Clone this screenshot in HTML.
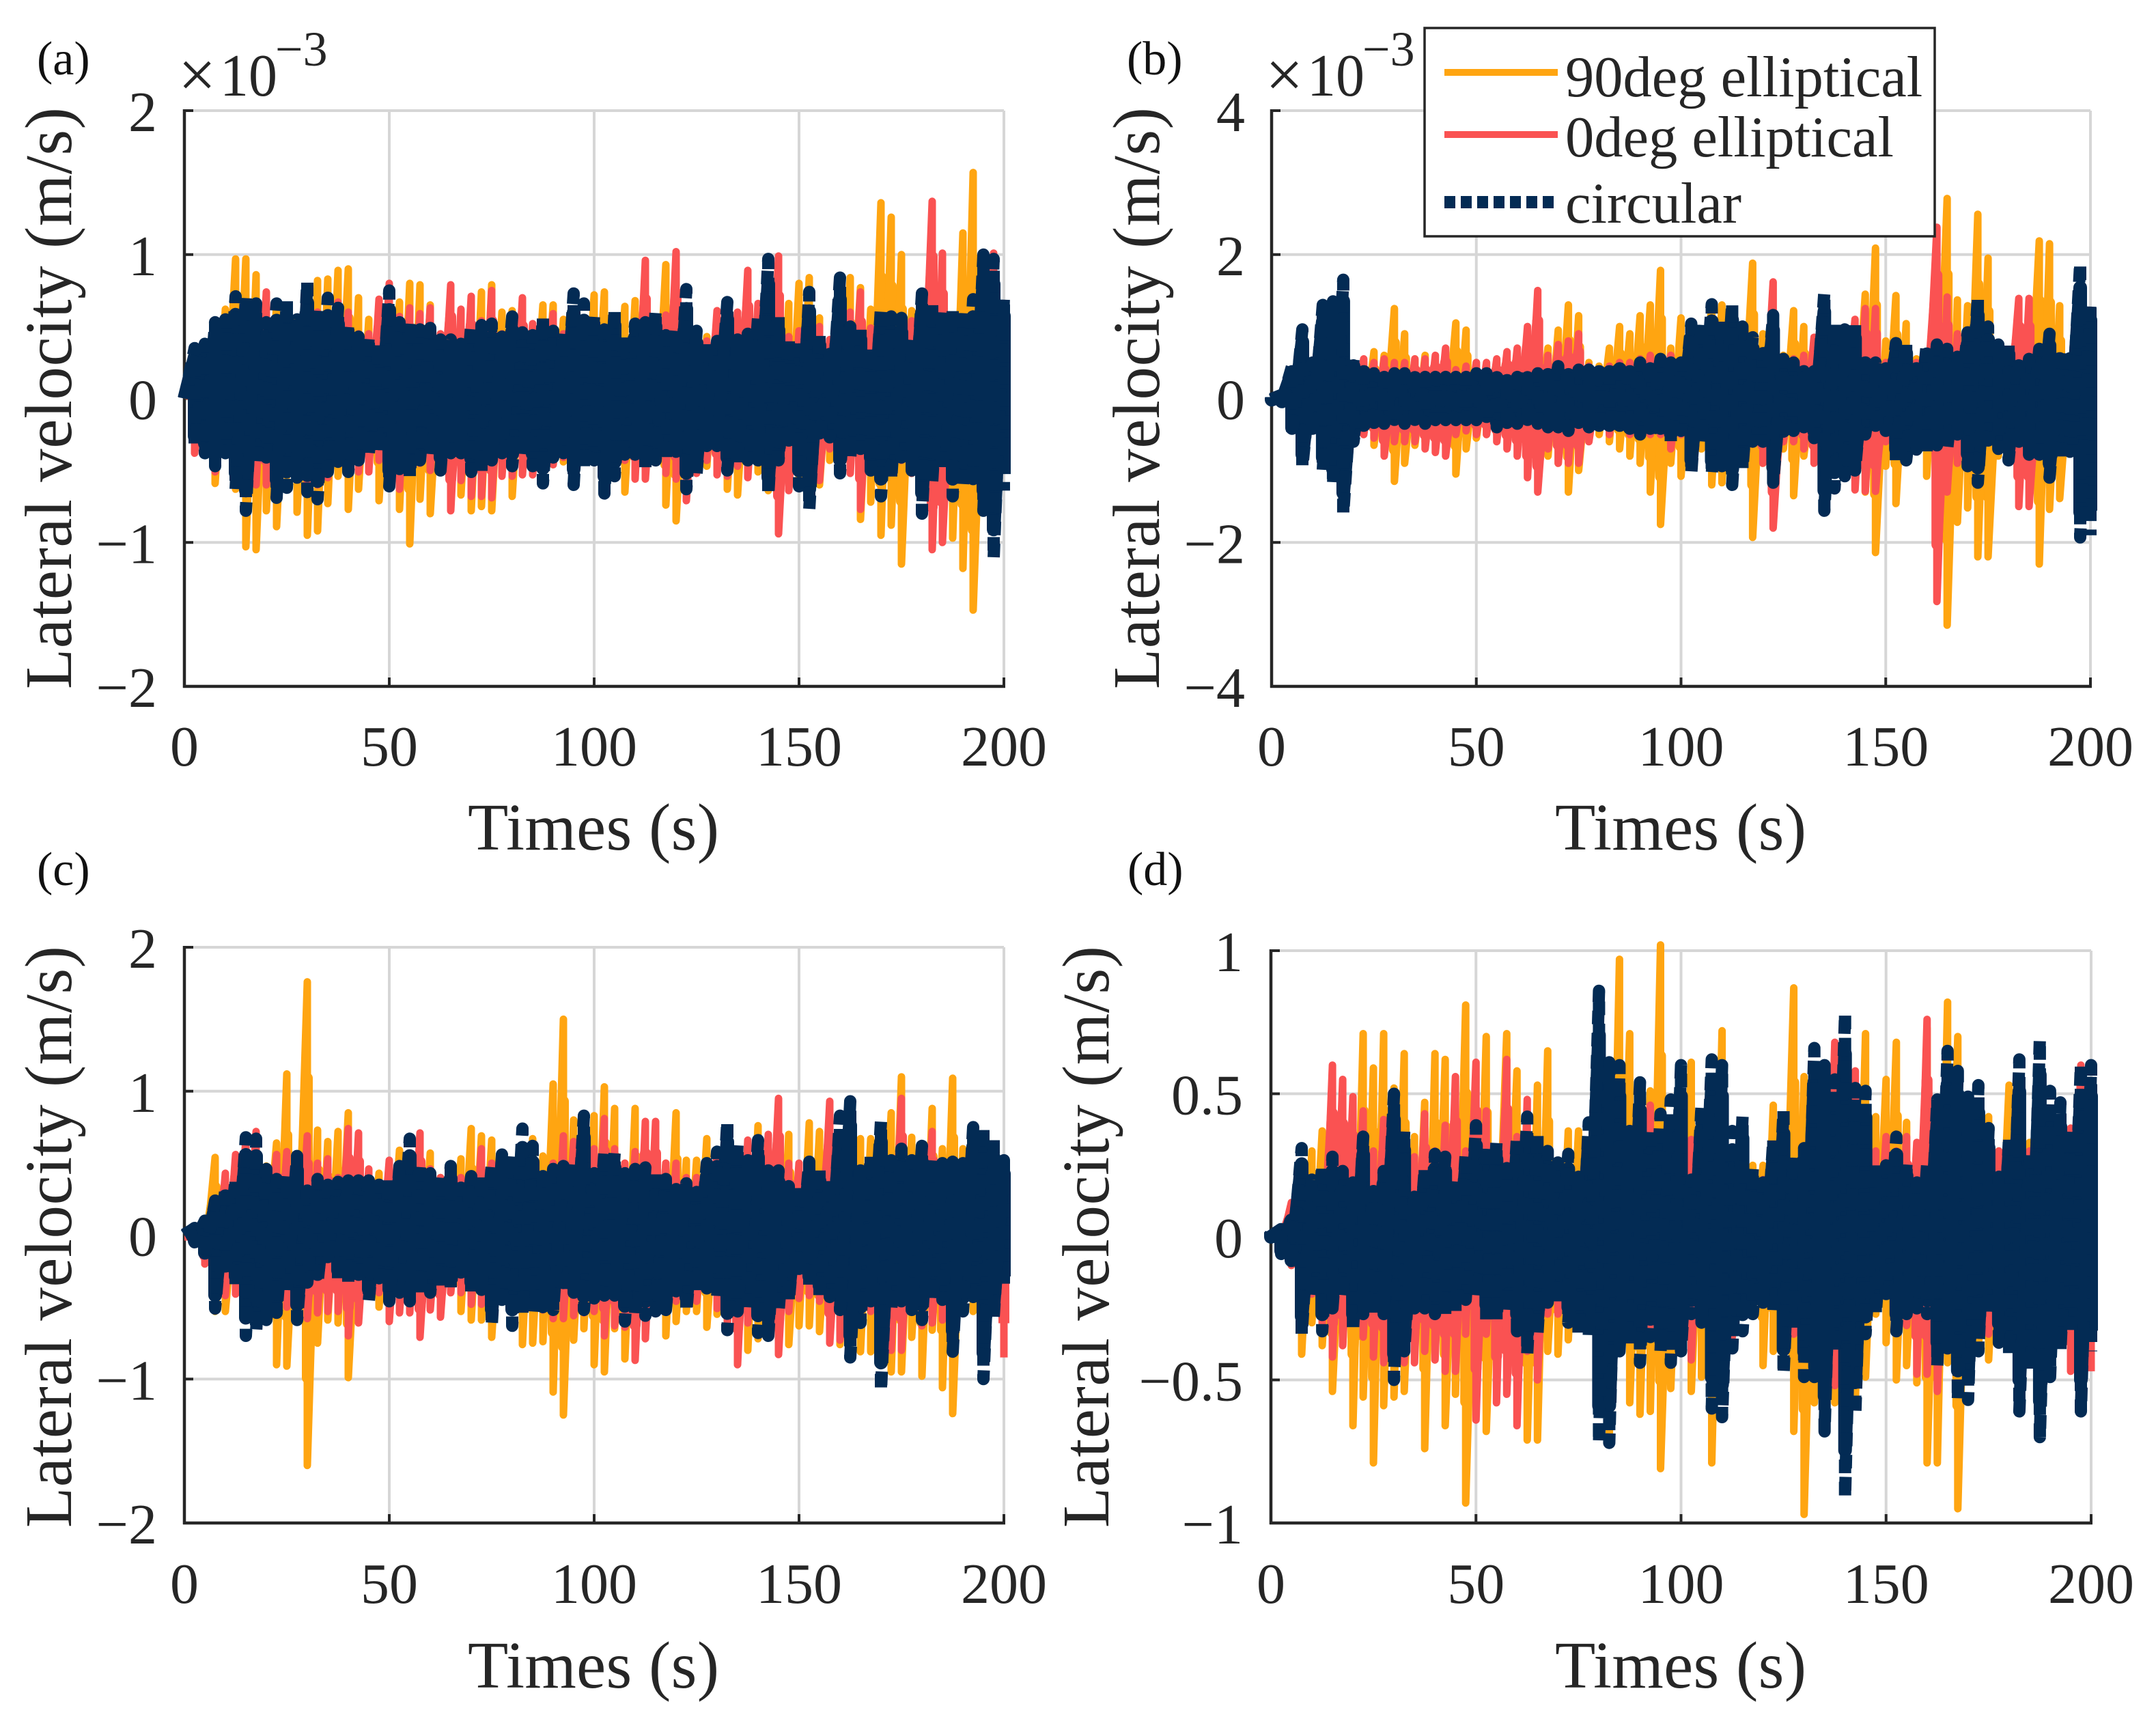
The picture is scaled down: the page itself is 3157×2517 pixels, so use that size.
<!DOCTYPE html>
<html lang="en">
<head>
<meta charset="utf-8">
<title>Lateral velocity comparison</title>
<style>
html,body{margin:0;padding:0;background:#fff;}
svg{display:block;}
text{font-family:"Liberation Serif",serif;fill:#262626;}
</style>
</head>
<body>
<svg id="figure" width="3157" height="2517" viewBox="0 0 3157 2517">
  <rect x="0" y="0" width="3157" height="2517" fill="#fff"/>
  <g id="plots"></g>

  <text x="54" y="109" font-size="70" style="fill:#111">(a)</text>
  <text x="1650" y="109" font-size="70" style="fill:#111">(b)</text>
  <text x="54" y="1296" font-size="70" style="fill:#111">(c)</text>
  <text x="1651" y="1296" font-size="70" style="fill:#111">(d)</text>

  <g>
    <text x="261" y="142" font-size="98">×</text>
    <text x="322" y="140" font-size="88" textLength="84" lengthAdjust="spacingAndGlyphs">10</text>
    <text x="403" y="96" font-size="72">−3</text>
  </g>
  <g>
    <text x="1853" y="142" font-size="98">×</text>
    <text x="1914" y="140" font-size="88" textLength="84" lengthAdjust="spacingAndGlyphs">10</text>
    <text x="1995" y="96" font-size="72">−3</text>
  </g>

  <text transform="translate(104,1009) rotate(-90)" font-size="97" textLength="852" lengthAdjust="spacing">Lateral velocity (m/s)</text>
  <text transform="translate(1697,1009) rotate(-90)" font-size="97" textLength="852" lengthAdjust="spacing">Lateral velocity (m/s)</text>
  <text transform="translate(104,2237) rotate(-90)" font-size="97" textLength="852" lengthAdjust="spacing">Lateral velocity (m/s)</text>
  <text transform="translate(1623,2237) rotate(-90)" font-size="97" textLength="852" lengthAdjust="spacing">Lateral velocity (m/s)</text>

  <text x="685" y="1244" font-size="97" textLength="368" lengthAdjust="spacing">Times (s)</text>
  <text x="2277" y="1244" font-size="97" textLength="368" lengthAdjust="spacing">Times (s)</text>
  <text x="685" y="2471" font-size="97" textLength="368" lengthAdjust="spacing">Times (s)</text>
  <text x="2277" y="2471" font-size="97" textLength="368" lengthAdjust="spacing">Times (s)</text>

  <g>
    <rect x="2086" y="41" width="747" height="305" fill="#fff" stroke="#262626" stroke-width="3.5"/>
    <line x1="2115" y1="106" x2="2281" y2="106" stroke="#FFA511" stroke-width="10"/>
    <text x="2292" y="141" font-size="84.5">90deg elliptical</text>
    <line x1="2115" y1="197" x2="2281" y2="197" stroke="#FA5252" stroke-width="10"/>
    <text x="2292" y="229" font-size="84.5">0deg elliptical</text>
    <line x1="2115" y1="296" x2="2281" y2="296" stroke="#032B54" stroke-width="18" stroke-dasharray="16 8"/>
    <text x="2292" y="326" font-size="84.5">circular</text>
  </g>
</svg>

<script>
/* Shared axis data */
const sampleStepSeconds = [2.5];
const valueUnit = [0.01];
const xTicks = [0, 50, 100, 150, 200];
const xTickLabels = ['0', '50', '100', '150', '200'];
const yTicksA = [-2, -1, 0, 1, 2];
const yTickLabelsA = ['−2', '−1', '0', '1', '2'];
const yTicksB = [-4, -2, 0, 2, 4];
const yTickLabelsB = ['−4', '−2', '0', '2', '4'];
const yTicksC = [-2, -1, 0, 1, 2];
const yTickLabelsC = ['−2', '−1', '0', '1', '2'];
const yTicksD = [-1, -0.5, 0, 0.5, 1];
const yTickLabelsD = ['−1', '−0.5', '0', '0.5', '1'];

/* Upper / lower peak values per 2.5 s sample, in hundredths of an axis unit */
const aOrangeHi = [0,25,30,49,62,97,97,86,68,67,57,55,70,82,83,89,90,70,55,46,50,67,80,79,65,40,40,50,64,74,79,60,61,50,45,65,65,55,50,50,
72,74,47,64,68,60,47,93,66,47,41,43,57,64,58,47,52,72,74,66,80,84,56,39,62,84,77,62,136,126,100,61,41,49,47,52,115,157,56,50,39];
const aOrangeLo = [0,-30,-35,-59,-38,-63,-103,-105,-78,-89,-54,-79,-95,-92,-73,-54,-77,-63,-40,-71,-50,-77,-101,-70,-80,-41,-68,-67,-78,-75,-78,-41,-68,-44,-43,-43,-46,-44,-51,-44,
-43,-43,-41,-65,-43,-43,-43,-74,-85,-56,-43,-47,-43,-63,-67,-43,-51,-64,-90,-62,-54,-56,-60,-43,-43,-43,-84,-72,-95,-88,-115,-52,-52,-52,-52,-97,-118,-147,-70,-64,-33];
const aRedHi = [0,25,30,45,50,60,60,60,74,55,55,50,55,60,55,67,60,45,45,69,80,57,63,59,63,45,79,62,71,54,75,45,45,70,52,50,59,45,45,45,
50,49,53,39,47,96,47,58,102,47,41,40,61,52,60,89,66,47,99,43,47,47,50,41,49,60,74,49,41,39,43,54,52,137,101,47,45,45,41,101,60];
const aRedLo = [0,-38,-38,-51,-36,-50,-50,-60,-60,-59,-52,-55,-60,-60,-55,-40,-45,-51,-51,-43,-55,-63,-50,-45,-50,-46,-78,-57,-68,-68,-69,-54,-54,-53,-53,-44,-46,-41,-43,-41,
-43,-52,-43,-43,-56,-56,-43,-52,-56,-71,-52,-43,-53,-54,-47,-55,-43,-56,-94,-64,-49,-52,-57,-35,-35,-52,-77,-43,-43,-43,-43,-52,-47,-105,-100,-50,-50,-50,-43,-56,-43];
const aNavyHi = [0,35,38,53,55,71,70,66,53,66,68,55,81,62,70,63,52,43,43,38,75,53,53,48,49,41,41,38,51,51,52,43,57,46,44,56,47,47,73,66,
58,48,62,45,52,53,61,44,47,76,47,39,40,67,41,45,56,97,58,41,41,74,45,31,84,50,50,35,63,57,56,41,73,66,60,61,62,69,100,97,70];
const aNavyLo = [0,-32,-38,-47,-38,-63,-78,-46,-41,-69,-62,-55,-65,-70,-51,-44,-51,-43,-38,-38,-61,-49,-54,-43,-40,-50,-38,-38,-51,-51,-43,-38,-47,-40,-47,-59,-41,-38,-60,-49,
-43,-66,-54,-39,-39,-48,-43,-43,-37,-63,-52,-33,-33,-50,-45,-43,-43,-67,-43,-35,-61,-77,-29,-27,-52,-41,-35,-50,-68,-56,-41,-50,-80,-58,-50,-68,-62,-56,-78,-111,-64];

const bOrangeHi = [0,2,10,20,20,20,25,30,45,50,65,60,125,90,55,60,40,55,105,95,50,45,50,55,55,60,50,70,95,130,115,50,45,70,100,90,115,130,178,70,
112,75,60,133,130,70,60,188,90,70,60,122,100,40,70,60,70,80,145,209,80,143,104,55,63,145,278,137,129,256,195,60,60,70,60,219,215,129,50,50,50];
const bOrangeLo = [0,-5,-10,-20,-20,-30,-30,-30,-40,-50,-65,-70,-115,-90,-65,-60,-55,-60,-105,-70,-55,-50,-50,-50,-50,-60,-50,-80,-90,-130,-100,-50,-50,-60,-70,-80,-90,-130,-175,-90,
-108,-80,-70,-120,-117,-70,-70,-193,-90,-80,-70,-135,-80,-40,-80,-80,-50,-70,-130,-214,-94,-146,-73,-65,-108,-113,-315,-172,-152,-220,-220,-80,-70,-60,-60,-230,-154,-139,-50,-50,-50];
const bRedHi = [0,2,10,20,20,20,25,30,45,55,50,55,50,50,55,55,60,70,40,45,50,50,55,65,70,100,150,60,75,80,90,45,40,45,50,50,55,60,50,60,
40,55,50,80,60,50,50,50,50,162,50,55,60,85,50,50,50,110,125,125,50,50,50,50,50,238,141,90,50,50,50,50,60,139,139,50,50,50,40,50,50];
const bRedLo = [0,-5,-10,-20,-20,-30,-30,-30,-40,-50,-55,-80,-60,-60,-60,-70,-75,-80,-50,-45,-50,-50,-60,-70,-80,-110,-130,-70,-90,-90,-90,-60,-40,-50,-40,-50,-50,-50,-50,-70,
-50,-55,-50,-50,-50,-50,-50,-60,-90,-180,-60,-60,-70,-90,-50,-40,-50,-127,-129,-129,-60,-60,-50,-50,-50,-282,-130,-90,-50,-50,-40,-40,-40,-150,-150,-50,-50,-50,-50,-70,-70];
const bNavyHi = [2,5,45,96,50,130,135,165,55,45,35,30,35,35,35,30,30,30,30,30,35,35,35,30,30,35,35,40,45,40,40,40,45,45,50,45,50,50,55,50,
50,104,104,131,110,133,100,85,63,116,55,50,38,38,147,104,96,102,60,50,42,77,77,42,75,75,69,58,92,141,100,75,75,55,55,69,90,67,67,188,133];
const bNavyLo = [-2,-5,-50,-95,-50,-100,-120,-160,-60,-45,-40,-35,-35,-35,-35,-35,-30,-30,-30,-30,-30,-30,-40,-40,-35,-35,-35,-40,-40,-45,-40,-40,-45,-45,-45,-50,-50,-50,-50,-60,
-45,-104,-60,-106,-94,-120,-98,-60,-60,-117,-55,-45,-40,-55,-156,-125,-108,-100,-50,-45,-45,-86,-86,-71,-74,-65,-70,-50,-94,-117,-70,-70,-86,-60,-78,-78,-110,-86,-74,-193,-190];

const cOrangeHi = [0,0,10,54,30,30,50,65,48,64,112,50,176,73,65,72,85,40,40,43,40,59,40,40,57,40,40,53,74,69,66,40,40,50,67,55,105,150,80,60,
83,103,88,50,88,50,50,50,85,52,52,67,40,40,40,50,76,50,50,70,40,78,72,40,40,50,67,67,50,85,110,68,40,88,60,109,60,60,50,40,40];
const cOrangeLo = [0,-5,-20,-53,-53,-40,-40,-40,-20,-90,-91,-50,-160,-75,-59,-61,-99,-50,-40,-50,-40,-40,-50,-50,-45,-35,-40,-53,-59,-59,-71,-30,-30,-76,-75,-74,-109,-125,-73,-65,
-90,-95,-65,-86,-55,-55,-50,-70,-60,-53,-53,-64,-55,-53,-80,-80,-72,-53,-77,-76,-63,-63,-67,-64,-76,-76,-81,-81,-53,-95,-95,-71,-98,-66,-106,-124,-53,-53,-44,-35,-35];
const cRedHi = [0,0,10,20,43,56,67,72,40,56,58,50,69,50,53,40,74,71,46,30,52,40,54,71,46,40,40,40,40,60,50,40,40,40,40,40,50,69,65,65,
60,81,60,50,58,79,79,50,50,40,40,40,58,50,50,66,50,70,95,50,50,40,40,93,40,40,40,40,40,50,95,50,50,72,40,40,40,40,40,40,50];
const cRedLo = [0,-5,-20,-40,-42,-41,-40,-40,-30,-50,-50,-50,-58,-54,-53,-53,-70,-61,-40,-40,-60,-54,-54,-71,-52,-57,-40,-40,-48,-48,-40,-30,-50,-50,-50,-52,-58,-58,-56,-54,
-53,-70,-63,-64,-87,-72,-53,-53,-46,-46,-46,-35,-51,-62,-90,-61,-53,-53,-83,-53,-44,-42,-46,-75,-73,-53,-53,-53,-63,-80,-80,-53,-63,-61,-59,-44,-44,-44,-44,-44,-85];
const cNavyHi = [0,5,10,24,33,39,68,67,46,39,41,55,31,39,35,37,38,38,38,35,39,48,67,50,43,41,48,33,41,41,48,56,56,74,62,41,46,48,50,83,
43,58,57,43,46,47,45,39,32,36,30,50,58,79,63,52,66,45,45,34,34,51,46,38,83,93,45,55,79,52,60,52,62,52,50,51,50,75,75,66,52];
const cNavyLo = [0,-5,-15,-51,-26,-35,-70,-67,-59,-54,-40,-59,-33,-33,-18,-30,-33,-33,-46,-30,-46,-40,-46,-40,-40,-36,-37,-26,-40,-38,-63,-45,-63,-54,-56,-50,-52,-40,-40,-52,
-44,-42,-42,-60,-57,-56,-53,-52,-39,-53,-39,-37,-44,-66,-53,-53,-68,-70,-53,-46,-28,-35,-43,-43,-52,-85,-61,-46,-108,-52,-46,-52,-59,-45,-45,-81,-53,-43,-100,-57,-35];

const dOrangeHi = [0,3,10,20,30,37,25,25,30,71,59,71,52,64,35,47,64,62,30,81,30,70,30,71,58,35,53,65,25,37,37,25,30,30,97,71,35,51,102,30,
45,61,30,35,72,30,25,25,25,46,30,87,56,35,35,61,40,40,71,42,55,68,40,30,73,40,82,70,35,30,42,30,53,30,33,35,30,39,35,30,30];
const dOrangeLo = [0,-3,-10,-41,-30,-38,-54,-38,-66,-56,-79,-59,-56,-54,-34,-74,-43,-66,-55,-93,-55,-68,-27,-32,-40,-71,-71,-40,-41,-36,-27,-27,-32,-70,-40,-58,-62,-61,-81,-53,
-40,-54,-49,-79,-48,-30,-27,-27,-45,-40,-35,-68,-97,-58,-58,-58,-79,-58,-49,-27,-37,-50,-45,-51,-79,-79,-44,-95,-40,-40,-43,-27,-34,-27,-40,-50,-40,-34,-34,-27,-27];
const dRedHi = [0,3,12,15,15,20,60,55,49,44,30,41,30,30,28,43,30,39,56,30,61,44,30,62,35,48,30,25,20,20,20,30,30,30,30,25,40,46,30,30,
30,34,33,30,25,20,20,20,20,20,20,25,25,30,40,68,49,58,30,30,35,30,35,33,76,40,35,30,30,30,30,30,25,25,30,30,30,35,38,60,39];
const dRedLo = [0,-3,-10,-30,-20,-30,-42,-38,-30,-35,-42,-44,-43,-44,-44,-40,-43,-47,-47,-34,-64,-34,-58,-55,-66,-40,-50,-27,-27,-22,-21,-21,-27,-27,-40,-34,-34,-34,-34,-34,
-30,-43,-27,-34,-35,-35,-21,-21,-21,-21,-21,-34,-35,-35,-57,-52,-40,-40,-27,-21,-15,-27,-31,-48,-48,-54,-34,-34,-27,-27,-34,-27,-27,-27,-27,-27,-27,-27,-47,-47,-47];
const dNavyHi = [2,3,7,31,20,25,28,23,19,35,16,23,50,37,14,24,29,28,20,29,39,32,33,24,35,42,36,30,26,29,21,40,86,61,60,37,54,38,43,48,
60,20,46,62,60,37,42,24,19,34,44,29,31,66,60,55,78,52,51,25,25,35,26,19,25,48,65,58,49,53,38,21,35,62,30,69,51,47,37,60,60];
const dNavyLo = [0,-6,-10,-34,-21,-33,-25,-21,-33,-27,-27,-27,-50,-40,-25,-25,-27,-27,-26,-22,-21,-29,-29,-26,-33,-41,-34,-23,-23,-30,-34,-35,-72,-72,-40,-38,-44,-35,-40,-44,
-40,-27,-30,-60,-63,-39,-33,-27,-23,-27,-48,-33,-49,-49,-68,-40,-91,-62,-34,-27,-20,-33,-27,-25,-27,-45,-39,-57,-57,-40,-27,-37,-42,-61,-47,-70,-49,-40,-34,-61,-40];

const plots = document.getElementById('plots');
const svgNS = plots.namespaceURI;

function makeEl(tag, attrs, parent) {
  const node = document.createElementNS(svgNS, tag);
  for (const k in attrs) node.setAttribute(k, attrs[k]);
  parent.appendChild(node);
  return node;
}

/* share < 1 draws the dense inner body of the oscillation, which is what makes the trace look solid */
function drawSeries(group, hi, lo, xScale, yScale, share, style) {
  let d = '';
  const n = Math.min(hi.length, lo.length);
  for (let i = 0; i < n; i++) {
    const t = i * sampleStepSeconds[0];
    const x = xScale(t).toFixed(1);
    d += (i ? 'L' : 'M') + x + ' ' + yScale(hi[i] * valueUnit[0] * share).toFixed(1);
    d += 'L' + x + ' ' + yScale(lo[i] * valueUnit[0] * share).toFixed(1);
  }
  return makeEl('path', Object.assign({d: d, fill: 'none', 'stroke-linejoin': 'round'}, style), group);
}

function drawPanel(key, box, yMin, yMax, yTicks, yLabels, labelRight, xBaseline, orange, red, navy) {
  const xScale = t => box.left + (t - xTicks[0]) / (xTicks[xTicks.length - 1] - xTicks[0]) * (box.right - box.left);
  const yScale = v => box.bottom - (v - yMin) / (yMax - yMin) * (box.bottom - box.top);

  const group = makeEl('g', {}, plots);
  
  

  xTicks.forEach((tick, i) => {
    const x = xScale(tick);
    const grid = makeEl('line', {x1: x, x2: x, y1: box.top, y2: box.bottom, stroke: '#d6d6d6', 'stroke-width': 4}, group);
    
    
  });
  yTicks.forEach((tick, i) => {
    const y = yScale(tick);
    const grid = makeEl('line', {x1: box.left, x2: box.right, y1: y, y2: y, stroke: '#d6d6d6', 'stroke-width': 4}, group);
    
    
  });

  const yAxis = makeEl('line', {x1: box.left, x2: box.left, y1: box.top - 2, y2: box.bottom + 2, stroke: '#262626', 'stroke-width': 4.5}, group);
  
  
  const xAxis = makeEl('line', {x1: box.left - 2, x2: box.right + 2, y1: box.bottom, y2: box.bottom, stroke: '#262626', 'stroke-width': 4.5}, group);
  
  

  xTicks.forEach((tick, i) => {
    const x = xScale(tick);
    const mark = makeEl('line', {x1: x, x2: x, y1: box.bottom, y2: box.bottom - 13, stroke: '#262626', 'stroke-width': 4}, group);
    
    
    const label = makeEl('text', {x: x, y: xBaseline, 'font-size': 84, 'text-anchor': 'middle'}, group);
    
    
    label.textContent = xTickLabels[i];
  });
  yTicks.forEach((tick, i) => {
    const y = yScale(tick);
    const mark = makeEl('line', {x1: box.left, x2: box.left + 13, y1: y, y2: y, stroke: '#262626', 'stroke-width': 4}, group);
    
    
    const label = makeEl('text', {x: labelRight, y: y + 30, 'font-size': 84, 'text-anchor': 'end'}, group);
    
    
    label.textContent = yLabels[i];
  });

  const orangeBody = drawSeries(group, orange[0], orange[1], xScale, yScale, 0.62, {stroke: '#FFA511', 'stroke-width': 16});
  
  
  const orangeLine = drawSeries(group, orange[0], orange[1], xScale, yScale, 1, {stroke: '#FFA511', 'stroke-width': 11});
  
  
  const redBody = drawSeries(group, red[0], red[1], xScale, yScale, 0.72, {stroke: '#FA5252', 'stroke-width': 16});
  
  
  const redLine = drawSeries(group, red[0], red[1], xScale, yScale, 1, {stroke: '#FA5252', 'stroke-width': 11});
  
  
  const navyBody = drawSeries(group, navy[0], navy[1], xScale, yScale, 0.82, {stroke: '#032B54', 'stroke-width': 20});
  
  
  const navyLine = drawSeries(group, navy[0], navy[1], xScale, yScale, 1, {stroke: '#032B54', 'stroke-width': 18, 'stroke-dasharray': '20 12.5'});
  
  
}

drawPanel('a', {left: 270, right: 1470, top: 162, bottom: 1005}, -2, 2, yTicksA, yTickLabelsA, 230, 1121,
  [aOrangeHi, aOrangeLo], [aRedHi, aRedLo], [aNavyHi, aNavyLo]);
drawPanel('b', {left: 1862, right: 3061, top: 162, bottom: 1005}, -4, 4, yTicksB, yTickLabelsB, 1823, 1121,
  [bOrangeHi, bOrangeLo], [bRedHi, bRedLo], [bNavyHi, bNavyLo]);
drawPanel('c', {left: 270, right: 1470, top: 1387, bottom: 2230}, -2, 2, yTicksC, yTickLabelsC, 230, 2347,
  [cOrangeHi, cOrangeLo], [cRedHi, cRedLo], [cNavyHi, cNavyLo]);
drawPanel('d', {left: 1861, right: 3062, top: 1392, bottom: 2230}, -1, 1, yTicksD, yTickLabelsD, 1820, 2347,
  [dOrangeHi, dOrangeLo], [dRedHi, dRedLo], [dNavyHi, dNavyLo]);
</script>
</body>
</html>
